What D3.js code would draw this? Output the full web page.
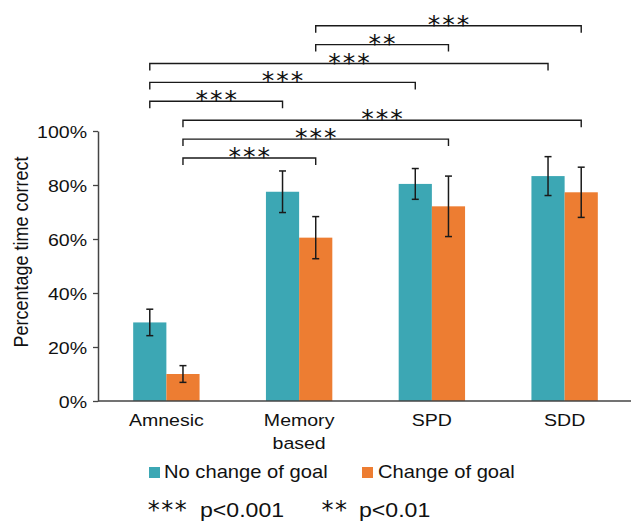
<!DOCTYPE html>
<html>
<head>
<meta charset="utf-8">
<script src="https://cdn.jsdelivr.net/npm/d3@7"></script>
<style>
  body { margin: 0; background: #fff; }
  svg text { font-family: "Liberation Sans", Arial, sans-serif; fill: #111; }
</style>
</head>
<body>
<div id="chart"></div>
<script>
// groups and series
const categories = ["Amnesic", "Memory based", "SPD", "SDD"];
const series = ["No change of goal", "Change of goal"];
const noChange = [0.291, 0.775, 0.804, 0.833];
const noChangeErr = [0.049, 0.077, 0.057, 0.072];
const change = [0.100, 0.605, 0.721, 0.773];
const changeErr = [0.031, 0.078, 0.112, 0.093];
const yTicks = [0, 0.2, 0.4, 0.6, 0.8, 1.0];

// significance brackets
const compFrom = ["Memory based", "Memory based", "Amnesic", "Amnesic", "Amnesic", "Amnesic", "Amnesic", "Amnesic"];
const compTo = ["SDD", "SPD", "SDD", "SPD", "Memory based", "SDD", "SPD", "Memory based"];
const compSeries = ["Change of goal", "Change of goal", "No change of goal", "No change of goal", "No change of goal", "Change of goal", "Change of goal", "Change of goal"];
const compLevel = [1.39, 1.32, 1.25, 1.18, 1.11, 1.04, 0.97, 0.90];
const compStars = ["***", "**", "***", "***", "***", "***", "***", "***"];

const colors = { "No change of goal": "#3ca7b4", "Change of goal": "#ed7d32" };
const SX = 1.15; // source figure is stretched horizontally

const W = 633, H = 524;
const svg = d3.select("#chart").append("svg").attr("width", W).attr("height", H);

const y = d3.scaleLinear().domain([0, 1]).range([401, 131]);
const x0 = d3.scaleBand().domain(categories).range([100, 631]);
const bw = x0.bandwidth();
const x1 = d3.scaleBand().domain(series).range([bw / 4, bw * 3 / 4]);

const rows = [];
categories.forEach((c, i) => {
  rows.push({ cat: c, s: series[0], v: noChange[i], e: noChangeErr[i] });
  rows.push({ cat: c, s: series[1], v: change[i], e: changeErr[i] });
});
const cx = (cat, s) => x0(cat) + x1(s) + x1.bandwidth() / 2;

// bars
svg.append("g").selectAll("rect").data(rows).join("rect")
  .attr("x", d => x0(d.cat) + x1(d.s))
  .attr("y", d => y(d.v))
  .attr("width", x1.bandwidth())
  .attr("height", d => y(0) - y(d.v))
  .attr("fill", d => colors[d.s]);

// error bars
const eb = svg.append("g").attr("stroke", "#1a1a1a").attr("stroke-width", 1.5);
rows.forEach(d => {
  const x = cx(d.cat, d.s);
  eb.append("line").attr("x1", x).attr("x2", x).attr("y1", y(d.v + d.e)).attr("y2", y(d.v - d.e));
  [d.v + d.e, d.v - d.e].forEach(v => {
    eb.append("line").attr("x1", x - 3.5).attr("x2", x + 3.5).attr("y1", y(v)).attr("y2", y(v));
  });
});

// y axis
const yAxis = svg.append("g").attr("transform", "translate(98,0)")
  .call(d3.axisLeft(y).tickValues(yTicks).tickFormat(d3.format(".0%")).tickSize(5).tickSizeOuter(0));
yAxis.select(".domain").attr("stroke", "#444").attr("stroke-width", 1.5);
yAxis.selectAll(".tick line").attr("stroke", "#444").attr("stroke-width", 1.3);
yAxis.selectAll(".tick text")
  .attr("x", 0).attr("dy", null)
  .attr("transform", `translate(-11,6) scale(${SX},1)`)
  .style("font-size", "17px").style("font-family", "Liberation Sans, Arial, sans-serif").attr("fill", "#111");

// x axis line
svg.append("line").attr("x1", 98).attr("x2", 631).attr("y1", y(0)).attr("y2", y(0))
  .attr("stroke", "#444").attr("stroke-width", 1.5);

// category labels
categories.forEach(c => {
  const t = svg.append("text")
    .attr("transform", `translate(${x0(c) + bw / 2},426) scale(${SX},1)`)
    .attr("text-anchor", "middle").style("font-size", "17px");
  c.split(" ").forEach((w, i) => {
    t.append("tspan").attr("x", 0).attr("dy", i ? 23 : 0).text(w);
  });
});

// y label
svg.append("text")
  .attr("transform", `translate(28,252) scale(${SX},1) rotate(-90)`)
  .attr("text-anchor", "middle").style("font-size", "18px")
  .text("Percentage time correct");

// brackets
const bg = svg.append("g");
compFrom.forEach((f, i) => {
  const xa = cx(f, compSeries[i]);
  const xb = cx(compTo[i], compSeries[i]);
  const ly = y(compLevel[i]);
  bg.append("path")
    .attr("d", `M${xa},${ly + 7}V${ly}H${xb}V${ly + 7}`)
    .attr("fill", "none").attr("stroke", "#1a1a1a").attr("stroke-width", 1.4);
  bg.append("text")
    .attr("x", (xa + xb) / 2 + 1).attr("y", ly + 7)
    .attr("text-anchor", "middle")
    .style("font-family", "DejaVu Sans, sans-serif").style("font-size", "25px")
    .style("letter-spacing", "2px")
    .text(compStars[i]);
});

// legend
const leg = [[149, 164], [362, 378]];
series.forEach((s, i) => {
  svg.append("rect").attr("x", leg[i][0]).attr("y", 467).attr("width", 11).attr("height", 11)
    .attr("fill", colors[s]);
  svg.append("text")
    .attr("transform", `translate(${leg[i][1]},478) scale(1.12,1)`)
    .style("font-size", "18px").text(s);
});

// footnote
const notes = [["***", "p<0.001", 168, 200], ["**", "p<0.01", 335, 359]];
notes.forEach(n => {
  svg.append("text").attr("x", n[0] === "**" ? n[2] : n[2]).attr("y", 518).attr("text-anchor", "middle")
    .style("font-family", "DejaVu Sans, sans-serif").style("font-size", "24px")
    .style("letter-spacing", "1.5px").text(n[0]);
  svg.append("text")
    .attr("transform", `translate(${n[3]},517) scale(1.1,1)`)
    .style("font-size", "21px").text(n[1]);
});
</script>
</body>
</html>
